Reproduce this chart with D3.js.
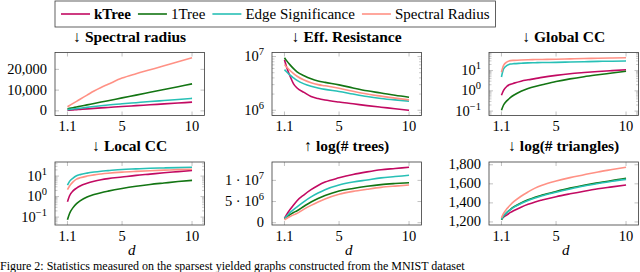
<!DOCTYPE html>
<html>
<head>
<meta charset="utf-8">
<script src="https://cdn.jsdelivr.net/npm/d3@7"></script>
<style>
  body { margin: 0; background: #fff; }
  svg { display: block; }
  text { font-family: "Liberation Serif", "DejaVu Serif", serif; }
</style>
</head>
<body>
<div class="canvas"></div>
<script>
// x values (average degree d) shared by every panel
const dValues = [1.1, 1.25, 1.5, 1.75, 2, 2.5, 3, 3.5, 4, 5, 6, 7, 8, 9, 10];
const xTicks = [1.1, 5, 10];

const seriesNames = ["kTree", "1Tree", "Edge Significance", "Spectral Radius"];
const seriesColours = ["#c20a62", "#137513", "#28c0b6", "#ff9185"];

// one array per panel, series in the order of seriesNames
const spectralRadius = [
  [300, 370, 500, 620, 740, 980, 1200, 1430, 1650, 2100, 2520, 2940, 3360, 3780, 4200],
  [1000, 1200, 1540, 1880, 2210, 2890, 3560, 4240, 4910, 6260, 7600, 8950, 10300, 11650, 13000],
  [600, 700, 900, 1100, 1300, 1700, 2100, 2450, 2800, 3400, 3950, 4500, 5000, 5500, 6000],
  [2000, 2600, 3600, 4600, 5600, 7600, 9600, 11300, 12800, 15800, 17900, 19800, 21700, 23700, 25600]
];
const effResistance = [
  [8.7e6, 6.4e6, 4.3e6, 3.1e6, 2.6e6, 2.15e6, 1.8e6, 1.65e6, 1.55e6, 1.42e6, 1.32e6, 1.22e6, 1.14e6, 1.07e6, 1.0e6],
  [9.5e6, 8.4e6, 7.0e6, 5.95e6, 5.2e6, 4.4e6, 3.85e6, 3.5e6, 3.3e6, 2.97e6, 2.6e6, 2.3e6, 2.1e6, 1.9e6, 1.75e6],
  [5.7e6, 5.2e6, 4.5e6, 4.0e6, 3.6e6, 3.1e6, 2.8e6, 2.6e6, 2.45e6, 2.24e6, 2.0e6, 1.8e6, 1.66e6, 1.56e6, 1.48e6],
  [7.1e6, 6.4e6, 5.5e6, 4.8e6, 4.3e6, 3.65e6, 3.25e6, 3.0e6, 2.85e6, 2.57e6, 2.25e6, 2.0e6, 1.83e6, 1.68e6, 1.56e6]
];
const globalCC = [
  [0.6, 1.05, 1.7, 2.1, 2.4, 3.0, 3.5, 4.0, 4.6, 5.8, 7.0, 8.0, 9.0, 10, 11],
  [0.11, 0.2, 0.33, 0.47, 0.62, 0.95, 1.3, 1.65, 2.0, 2.9, 3.9, 5.0, 6.2, 7.6, 9.3],
  [4.8, 12, 18, 21, 22, 23, 24, 24.5, 25, 25.5, 26.5, 27.5, 28.5, 29, 30],
  [8.3, 18, 27, 31, 32, 33.5, 34.5, 35, 35.5, 36.5, 38, 39.5, 40.5, 42, 43]
];
const localCC = [
  [0.56, 1.1, 1.9, 2.6, 3.3, 4.5, 5.6, 6.6, 7.5, 9, 10.8, 12.5, 14.5, 16.5, 18.7],
  [0.074, 0.15, 0.29, 0.45, 0.62, 0.95, 1.25, 1.55, 1.85, 2.5, 3.2, 3.9, 4.6, 5.4, 6.2],
  [3.6, 5.5, 8, 10.3, 11.8, 14, 15.8, 17.3, 18.5, 21, 22.5, 24, 25, 26, 27],
  [2.2, 3.3, 5.2, 7.1, 8.2, 10, 11.5, 12.7, 13.8, 15.6, 17, 18.3, 19.5, 20.6, 21.7]
];
const logTrees = [
  [1.1e6, 1.9e6, 3.1e6, 4.2e6, 5.2e6, 6.6e6, 7.8e6, 8.8e6, 9.6e6, 10.6e6, 11.4e6, 12.0e6, 12.5e6, 12.8e6, 13.1e6],
  [0.9e6, 1.3e6, 1.9e6, 2.4e6, 2.83e6, 3.9e6, 4.9e6, 5.7e6, 6.4e6, 7.5e6, 8.1e6, 8.6e6, 9.0e6, 9.25e6, 9.44e6],
  [1.0e6, 1.5e6, 2.4e6, 3.1e6, 3.76e6, 5.0e6, 6.1e6, 7.0e6, 7.8e6, 8.9e6, 9.6e6, 10.1e6, 10.6e6, 10.9e6, 11.2e6],
  [0.7e6, 1.0e6, 1.45e6, 1.85e6, 2.2e6, 3.2e6, 4.1e6, 4.9e6, 5.6e6, 6.7e6, 7.4e6, 7.9e6, 8.35e6, 8.65e6, 8.9e6]
];
const logTriangles = [
  [1230, 1250, 1275, 1300, 1320, 1355, 1385, 1410, 1430, 1465, 1495, 1523, 1548, 1568, 1588],
  [1223, 1260, 1300, 1333, 1360, 1400, 1432, 1460, 1482, 1520, 1555, 1585, 1610, 1635, 1657],
  [1228, 1262, 1300, 1330, 1355, 1393, 1425, 1452, 1475, 1512, 1546, 1577, 1603, 1627, 1647],
  [1243, 1290, 1340, 1380, 1415, 1470, 1515, 1555, 1585, 1629, 1665, 1695, 1725, 1750, 1774]
];

// y tick values
const spectralTicks = [0, 10000, 20000];
const resistanceTicks = [1e6, 1e7];
const ccTicks = [0.1, 1, 10];
const treeTicks = [0, 5e6, 1e7];
const triangleTicks = [1200, 1400, 1600, 1800];

const caption = "Figure 2: Statistics measured on the sparsest yielded graphs constructed from the MNIST dataset";

const panels = [
  { title: "\u2193 Spectral radius", data: spectralRadius, log: false, ticks: spectralTicks, label: "comma" },
  { title: "\u2193 Eff. Resistance", data: effResistance, log: true, ticks: resistanceTicks, label: "pow" },
  { title: "\u2193 Global CC", data: globalCC, log: true, ticks: ccTicks, label: "pow" },
  { title: "\u2193 Local CC", data: localCC, log: true, ticks: ccTicks, label: "pow" },
  { title: "\u2191 log(# trees)", data: logTrees, log: false, ticks: treeTicks, label: "sci" },
  { title: "\u2193 log(# triangles)", data: logTriangles, log: false, ticks: triangleTicks, label: "comma" }
];

// layout
const dims = { width: 640, height: 272 };
const colLeft = [55, 272, 489];
const rowTop = [52.5, 162];
const plotW = 149.5, plotH = 63;
const frameColour = "#3a3a3a", tickColour = "#a8a8a8";
const serif = "'Liberation Serif', 'DejaVu Serif', serif";

const svg = d3
  .select(".canvas")
  .append("svg")
  .attr("width", dims.width)
  .attr("height", dims.height)
  .attr("font-family", serif);

// writes a tick label into a text element
const writeLabel = (text, v, kind) => {
  if (kind === "comma") {
    text.text(d3.format(",")(v));
    return;
  }
  if (v === 0) {
    text.text("0");
    return;
  }
  const exp = Math.floor(Math.log10(v) + 1e-9);
  const mant = Math.round(v / Math.pow(10, exp));
  const base = kind === "sci" ? `${mant} \u00b7 10` : "10";
  text.append("tspan").text(base);
  text
    .append("tspan")
    .attr("dy", -6)
    .attr("font-size", 10.5)
    .text(String(exp).replace("-", "\u2212"));
};

const xPad = (d3.max(dValues) - d3.min(dValues)) * 0.1;

panels.forEach((p, i) => {
  const col = i % 3;
  const row = Math.floor(i / 3);
  const g = svg
    .append("g")
    .attr("transform", `translate(${colLeft[col]}, ${rowTop[row]})`);

  const x = d3
    .scaleLinear()
    .domain([d3.min(dValues) - xPad, d3.max(dValues) + xPad])
    .range([0, plotW]);

  // pgfplots style 10% enlargement of the y limits
  const all = p.data.flat();
  let y;
  if (p.log) {
    const lo = Math.log10(d3.min(all));
    const hi = Math.log10(d3.max(all));
    const pad = (hi - lo) * 0.1;
    y = d3.scaleLog().domain([Math.pow(10, lo - pad), Math.pow(10, hi + pad)]).range([plotH, 0]);
  } else {
    const lo = d3.min(all);
    const hi = d3.max(all);
    const pad = (hi - lo) * 0.1;
    y = d3.scaleLinear().domain([lo - pad, hi + pad]).range([plotH, 0]);
  }

  // minor ticks for log axes
  if (p.log) {
    const [dlo, dhi] = y.domain();
    const minor = [];
    for (let k = Math.floor(Math.log10(dlo)); k <= Math.ceil(Math.log10(dhi)); k++) {
      for (let m = 2; m <= 9; m++) {
        const v = m * Math.pow(10, k);
        if (v > dlo && v < dhi) minor.push(v);
      }
    }
    g.selectAll(".minor")
      .data(minor)
      .enter()
      .append("path")
      .attr("d", (v) => `M0,${y(v)}h2.5M${plotW},${y(v)}h-2.5`)
      .attr("stroke", tickColour)
      .attr("stroke-width", 0.6);
  }

  // major ticks, inside on all four sides
  g.selectAll(".ytick")
    .data(p.ticks)
    .enter()
    .append("path")
    .attr("d", (v) => `M0,${y(v)}h4M${plotW},${y(v)}h-4`)
    .attr("stroke", tickColour)
    .attr("stroke-width", 0.7);

  g.selectAll(".xtick")
    .data(xTicks)
    .enter()
    .append("path")
    .attr("d", (v) => `M${x(v)},${plotH}v-4M${x(v)},0v4`)
    .attr("stroke", tickColour)
    .attr("stroke-width", 0.7);

  // clip lines to the plot box
  g.append("clipPath")
    .attr("id", `clip${i}`)
    .append("rect")
    .attr("width", plotW)
    .attr("height", plotH);

  const line = d3
    .line()
    .x((v, j) => x(dValues[j]))
    .y((v) => y(v))
    .curve(d3.curveMonotoneX);

  g.append("g")
    .attr("clip-path", `url(#clip${i})`)
    .selectAll("path")
    .data(p.data)
    .enter()
    .append("path")
    .attr("d", line)
    .attr("fill", "none")
    .attr("stroke", (d, j) => seriesColours[j])
    .attr("stroke-width", 1.6)
    .attr("stroke-linejoin", "round");

  // frame
  g.append("rect")
    .attr("width", plotW)
    .attr("height", plotH)
    .attr("fill", "none")
    .attr("stroke", frameColour)
    .attr("stroke-width", 0.8);

  // tick labels
  g.selectAll(".ylab")
    .data(p.ticks)
    .enter()
    .append("text")
    .attr("x", -8)
    .attr("y", (v) => y(v) + 4.5)
    .attr("text-anchor", "end")
    .attr("font-size", 14.5)
    .each(function (v) {
      writeLabel(d3.select(this), v, p.label);
    });

  g.selectAll(".xlab")
    .data(xTicks)
    .enter()
    .append("text")
    .attr("x", (v) => x(v))
    .attr("y", plotH + 15.5)
    .attr("text-anchor", "middle")
    .attr("font-size", 14.5)
    .text((v) => v);

  // title
  g.append("text")
    .attr("x", plotW / 2)
    .attr("y", -11)
    .attr("text-anchor", "middle")
    .attr("font-size", 15.5)
    .attr("font-weight", "bold")
    .text(p.title);

  // x axis label on the bottom row
  if (row === 1) {
    g.append("text")
      .attr("x", plotW / 2 + 2)
      .attr("y", plotH + 29.5)
      .attr("text-anchor", "middle")
      .attr("font-size", 15)
      .attr("font-style", "italic")
      .text("d");
  }
});

//legend
const legendGroup = svg.append("g");
const legendBox = legendGroup.append("rect");
let cx = 61;
seriesNames.forEach((name, j) => {
  legendGroup
    .append("line")
    .attr("x1", cx)
    .attr("x2", cx + 29)
    .attr("y1", 14)
    .attr("y2", 14)
    .attr("stroke", seriesColours[j])
    .attr("stroke-width", 1.6);
  const t = legendGroup
    .append("text")
    .attr("x", cx + 33)
    .attr("y", 19)
    .attr("font-size", 15)
    .attr("font-weight", j === 0 ? "bold" : "normal")
    .text(name);
  cx += 33 + t.node().getComputedTextLength() + 7;
});
legendBox
  .attr("x", 55)
  .attr("y", 1)
  .attr("width", cx - 7 + 6 - 55)
  .attr("height", 26)
  .attr("fill", "#fff")
  .attr("stroke", frameColour)
  .attr("stroke-width", 0.8);

// caption under the figure
svg.append("text")
  .attr("x", 0)
  .attr("y", 269.5)
  .attr("font-size", 12)
  .text(caption);
</script>
</body>
</html>
